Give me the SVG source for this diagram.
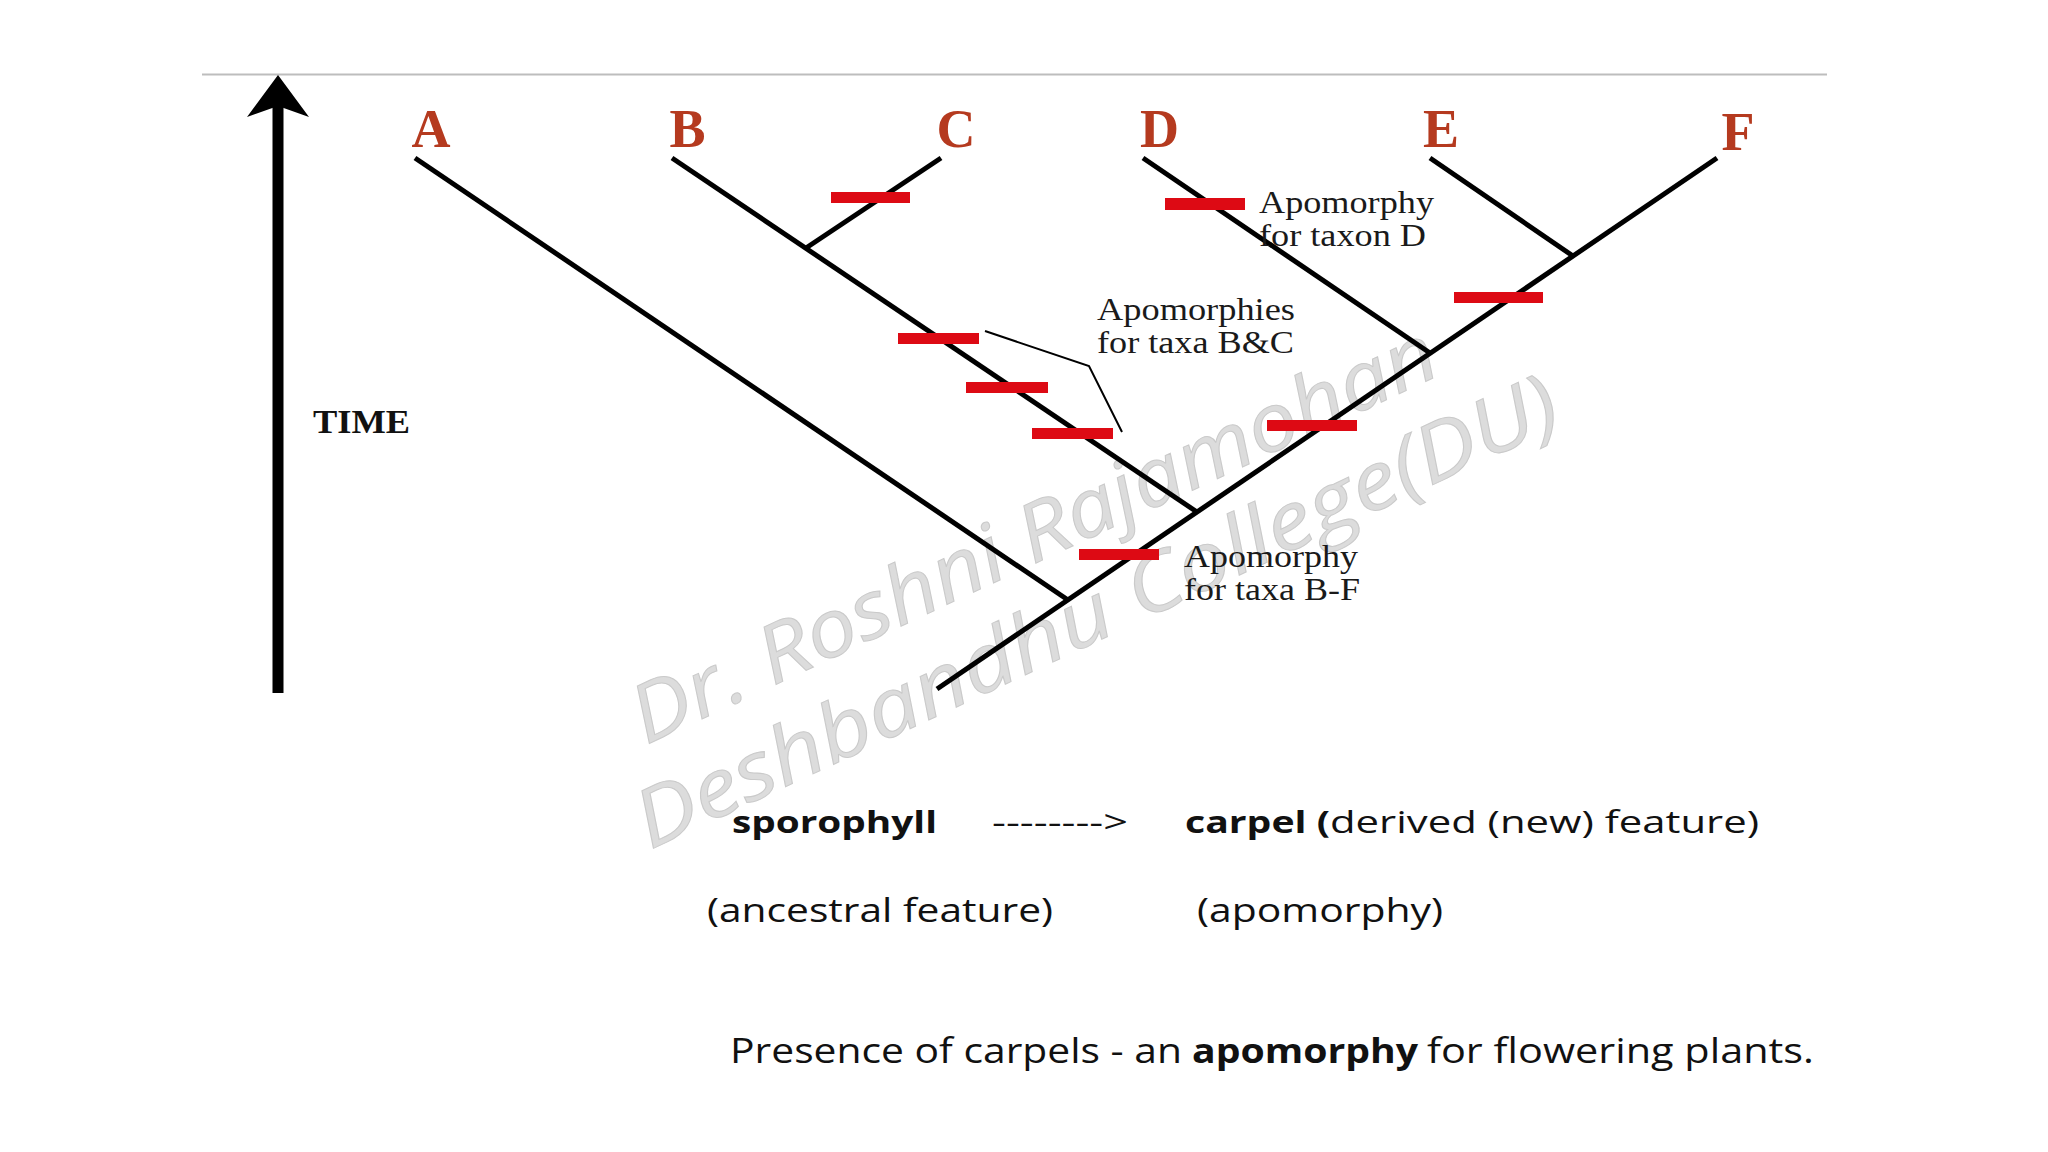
<svg xmlns="http://www.w3.org/2000/svg" width="2048" height="1152" viewBox="0 0 2048 1152">
<defs>
<style>
.branch{stroke:#000;stroke-width:5;fill:none}
.dash{fill:#DD0A14}
.taxon{font-family:"Liberation Serif","Times New Roman",serif;font-weight:bold;font-size:54px;fill:#B53A1F;text-anchor:middle}
.note{font-family:"Liberation Serif","Times New Roman",serif;font-size:31px;fill:#1a1a1a}
.cap{font-family:"Open Sans","Liberation Sans",sans-serif;fill:#111}
.r1{font-size:31px}
.r2{font-size:33px}
.r3{font-size:34px}
.b{font-weight:bold}
.wm{font-family:"Open Sans","Liberation Sans",sans-serif;font-style:italic;font-size:80px;fill:#dcdcdc;stroke:#cacaca;stroke-width:1}
</style>
</defs>
<rect width="2048" height="1152" fill="#fff"/>
<g id="watermark">
<text class="wm" x="646" y="745" transform="rotate(-25 646 745)" textLength="880" lengthAdjust="spacingAndGlyphs">Dr. Roshni Rajamohan</text>
<text class="wm" x="650" y="850" transform="rotate(-25 650 850)" textLength="1010" lengthAdjust="spacingAndGlyphs">Deshbandhu College(DU)</text>
</g>
<line id="top-rule" x1="202" y1="74.5" x2="1827" y2="74.5" stroke="#bdbdbd" stroke-width="2"/>
<g id="time-axis">
<rect x="272.5" y="100" width="11" height="593" fill="#000"/>
<polygon points="278,75 309,117 278,106 247,117" fill="#000"/>
<text x="313" y="433" font-family="Liberation Serif, serif" font-weight="bold" font-size="33" textLength="97" lengthAdjust="spacingAndGlyphs" fill="#111">TIME</text>
</g>
<g id="connectors">
<line class="branch" x1="415" y1="158" x2="1068" y2="600"/>
<line class="branch" x1="672" y1="158" x2="1197" y2="512"/>
<line class="branch" x1="941" y1="158" x2="806" y2="248"/>
<line class="branch" x1="1143" y1="158" x2="1430" y2="353"/>
<line class="branch" x1="1430" y1="158" x2="1573" y2="256"/>
<line class="branch" x1="1717" y1="158" x2="937" y2="689"/>
<polyline points="985,331 1089,366 1122,432" fill="none" stroke="#000" stroke-width="2"/>
</g>
<g id="taxon-A"><text class="taxon" x="431" y="147">A</text></g>
<g id="taxon-B"><text class="taxon" x="687.5" y="147">B</text></g>
<g id="taxon-C"><text class="taxon" x="956" y="147">C</text></g>
<g id="taxon-D"><text class="taxon" x="1159.5" y="147">D</text></g>
<g id="taxon-E"><text class="taxon" x="1441" y="147">E</text></g>
<g id="taxon-F"><text class="taxon" x="1738" y="150">F</text></g>
<g id="apomorphies">
<rect class="dash" x="831" y="192" width="79" height="11"/>
<rect class="dash" x="1165" y="198" width="80" height="12"/>
<rect class="dash" x="1454" y="292" width="89" height="11"/>
<rect class="dash" x="898" y="333" width="81" height="11"/>
<rect class="dash" x="966" y="382" width="82" height="11"/>
<rect class="dash" x="1032" y="428" width="81" height="11"/>
<rect class="dash" x="1267" y="420" width="90" height="11"/>
<rect class="dash" x="1079" y="549" width="80" height="11"/>
</g>
<g id="note-D">
<text class="note" x="1259" y="213" textLength="175" lengthAdjust="spacingAndGlyphs">Apomorphy</text>
<text class="note" x="1259" y="246" textLength="167" lengthAdjust="spacingAndGlyphs">for taxon D</text>
</g>
<g id="note-BC">
<text class="note" x="1097" y="320" textLength="198" lengthAdjust="spacingAndGlyphs">Apomorphies</text>
<text class="note" x="1097" y="353" textLength="197" lengthAdjust="spacingAndGlyphs">for taxa B&amp;C</text>
</g>
<g id="note-BF">
<text class="note" x="1184" y="567" textLength="174" lengthAdjust="spacingAndGlyphs">Apomorphy</text>
<text class="note" x="1184" y="600" textLength="176" lengthAdjust="spacingAndGlyphs">for taxa B-F</text>
</g>
<g id="caption">
<text class="cap r1 b" x="732" y="833" textLength="205" lengthAdjust="spacingAndGlyphs">sporophyll</text>
<text class="cap r1" x="992" y="833" textLength="136" lengthAdjust="spacingAndGlyphs">--------&gt;</text>
<text class="cap r1" y="833"><tspan class="b" x="1185" textLength="145" lengthAdjust="spacingAndGlyphs">carpel (</tspan><tspan x="1330" textLength="429" lengthAdjust="spacingAndGlyphs">derived (new) feature)</tspan></text>
<text class="cap r2" x="707" y="922" textLength="346" lengthAdjust="spacingAndGlyphs">(ancestral feature)</text>
<text class="cap r2" x="1197" y="922" textLength="246" lengthAdjust="spacingAndGlyphs">(apomorphy)</text>
<text class="cap r3" y="1063"><tspan x="730" textLength="452" lengthAdjust="spacingAndGlyphs">Presence of carpels - an</tspan><tspan class="b" x="1192" textLength="226" lengthAdjust="spacingAndGlyphs">apomorphy</tspan><tspan x="1427" textLength="387" lengthAdjust="spacingAndGlyphs">for flowering plants.</tspan></text>
</g>
</svg>
